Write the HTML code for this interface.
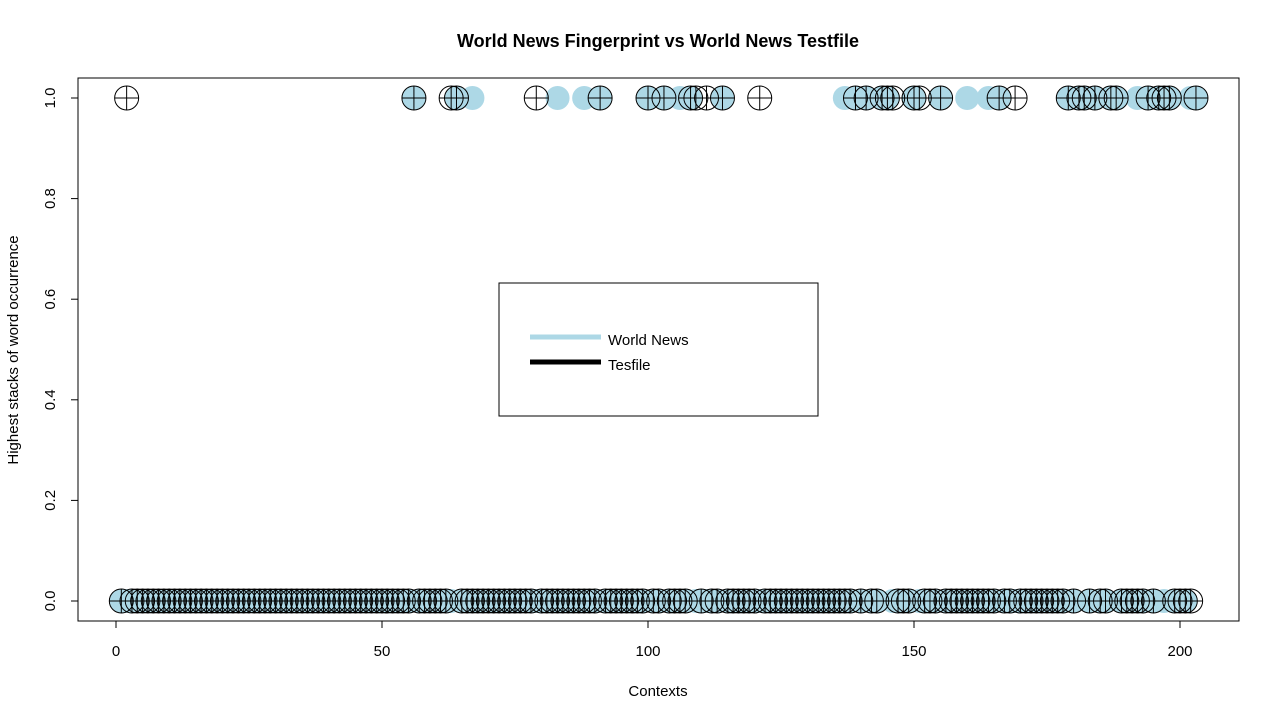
<!DOCTYPE html>
<html><head><meta charset="utf-8"><style>
body{margin:0;background:#fff;font-family:"Liberation Sans",Arial,sans-serif}
svg text{font-family:"Liberation Sans",Arial,sans-serif}
</style></head><body>
<svg id="chart" width="1280" height="720">
<text x="658" y="47" text-anchor="middle" font-size="18" font-weight="bold">World News Fingerprint vs World News Testfile</text>
<rect x="78" y="78" width="1161" height="543" fill="none" stroke="#000"/>
<g id="marks"></g>
<g id="axes"></g>
<text x="658" y="696" text-anchor="middle" font-size="15">Contexts</text>
<text transform="translate(18,350) rotate(-90)" text-anchor="middle" font-size="15">Highest stacks of word occurrence</text>
<g>
<rect x="499" y="283" width="319" height="133" fill="#fff" stroke="#000"/>
<line x1="530" y1="337" x2="601" y2="337" stroke="#add8e6" stroke-width="5"/>
<text x="608" y="345" font-size="15">World News</text>
<line x1="530" y1="362" x2="601" y2="362" stroke="#000" stroke-width="5"/>
<text x="608" y="370" font-size="15">Tesfile</text>
</g>
</svg>
<script>
const N = 203;
const worldOnes = [56,64,67,83,88,91,100,103,106,108,114,137,139,141,144,145,150,155,160,164,166,179,181,182,184,187,188,192,194,196,198,202,203];
const testOnes = [2,56,63,64,79,91,100,103,108,109,111,114,121,139,141,144,145,146,150,151,155,166,169,179,181,182,184,187,188,194,196,197,198,203];
const xTicks = [0,50,100,150,200];
const yTicks = [0,0.2,0.4,0.6,0.8,1.0];
const worldVals = [], testVals = [];
for (let i = 1; i <= N; i++) { worldVals.push(worldOnes.includes(i)?1:0); testVals.push(testOnes.includes(i)?1:0); }
const X = v => 116 + v*5.32;
const Y = v => 601 - v*503;
const ns = "http://www.w3.org/2000/svg";
const marks = document.getElementById('marks'), axes = document.getElementById('axes');
function mk(t, a, p){const e=document.createElementNS(ns,t);for(const k in a)e.setAttribute(k,a[k]);p.appendChild(e);return e;}
worldVals.forEach((v,i)=>{
  const c = mk('circle',{cx:X(i+1),cy:Y(v),r:12,fill:'#add8e6'},marks);
  
  
});
testVals.forEach((v,i)=>{
  const g = mk('g',{fill:'none',stroke:'#000','stroke-width':1},marks);
  
  
  const cx=X(i+1), cy=Y(v);
  mk('circle',{cx:cx,cy:cy,r:12},g);
  mk('line',{x1:cx-12,y1:cy,x2:cx+12,y2:cy},g);
  mk('line',{x1:cx,y1:cy-12,x2:cx,y2:cy+12},g);
});
mk('line',{x1:X(0),y1:621,x2:X(200),y2:621,stroke:'#000'},axes);
xTicks.forEach(t=>{
  mk('line',{x1:X(t),y1:621,x2:X(t),y2:628,stroke:'#000'},axes);
  const tx = mk('text',{x:X(t),y:656,'text-anchor':'middle','font-size':15},axes);
  tx.textContent=t;
  
  
});
mk('line',{x1:78,y1:Y(0),x2:78,y2:Y(1),stroke:'#000'},axes);
yTicks.forEach(t=>{
  mk('line',{x1:71,y1:Y(t),x2:78,y2:Y(t),stroke:'#000'},axes);
  const tx = mk('text',{transform:`translate(55,${Y(t)}) rotate(-90)`,'text-anchor':'middle','font-size':15},axes);
  tx.textContent=t.toFixed(1);
  
  
});
</script>
</body></html>
